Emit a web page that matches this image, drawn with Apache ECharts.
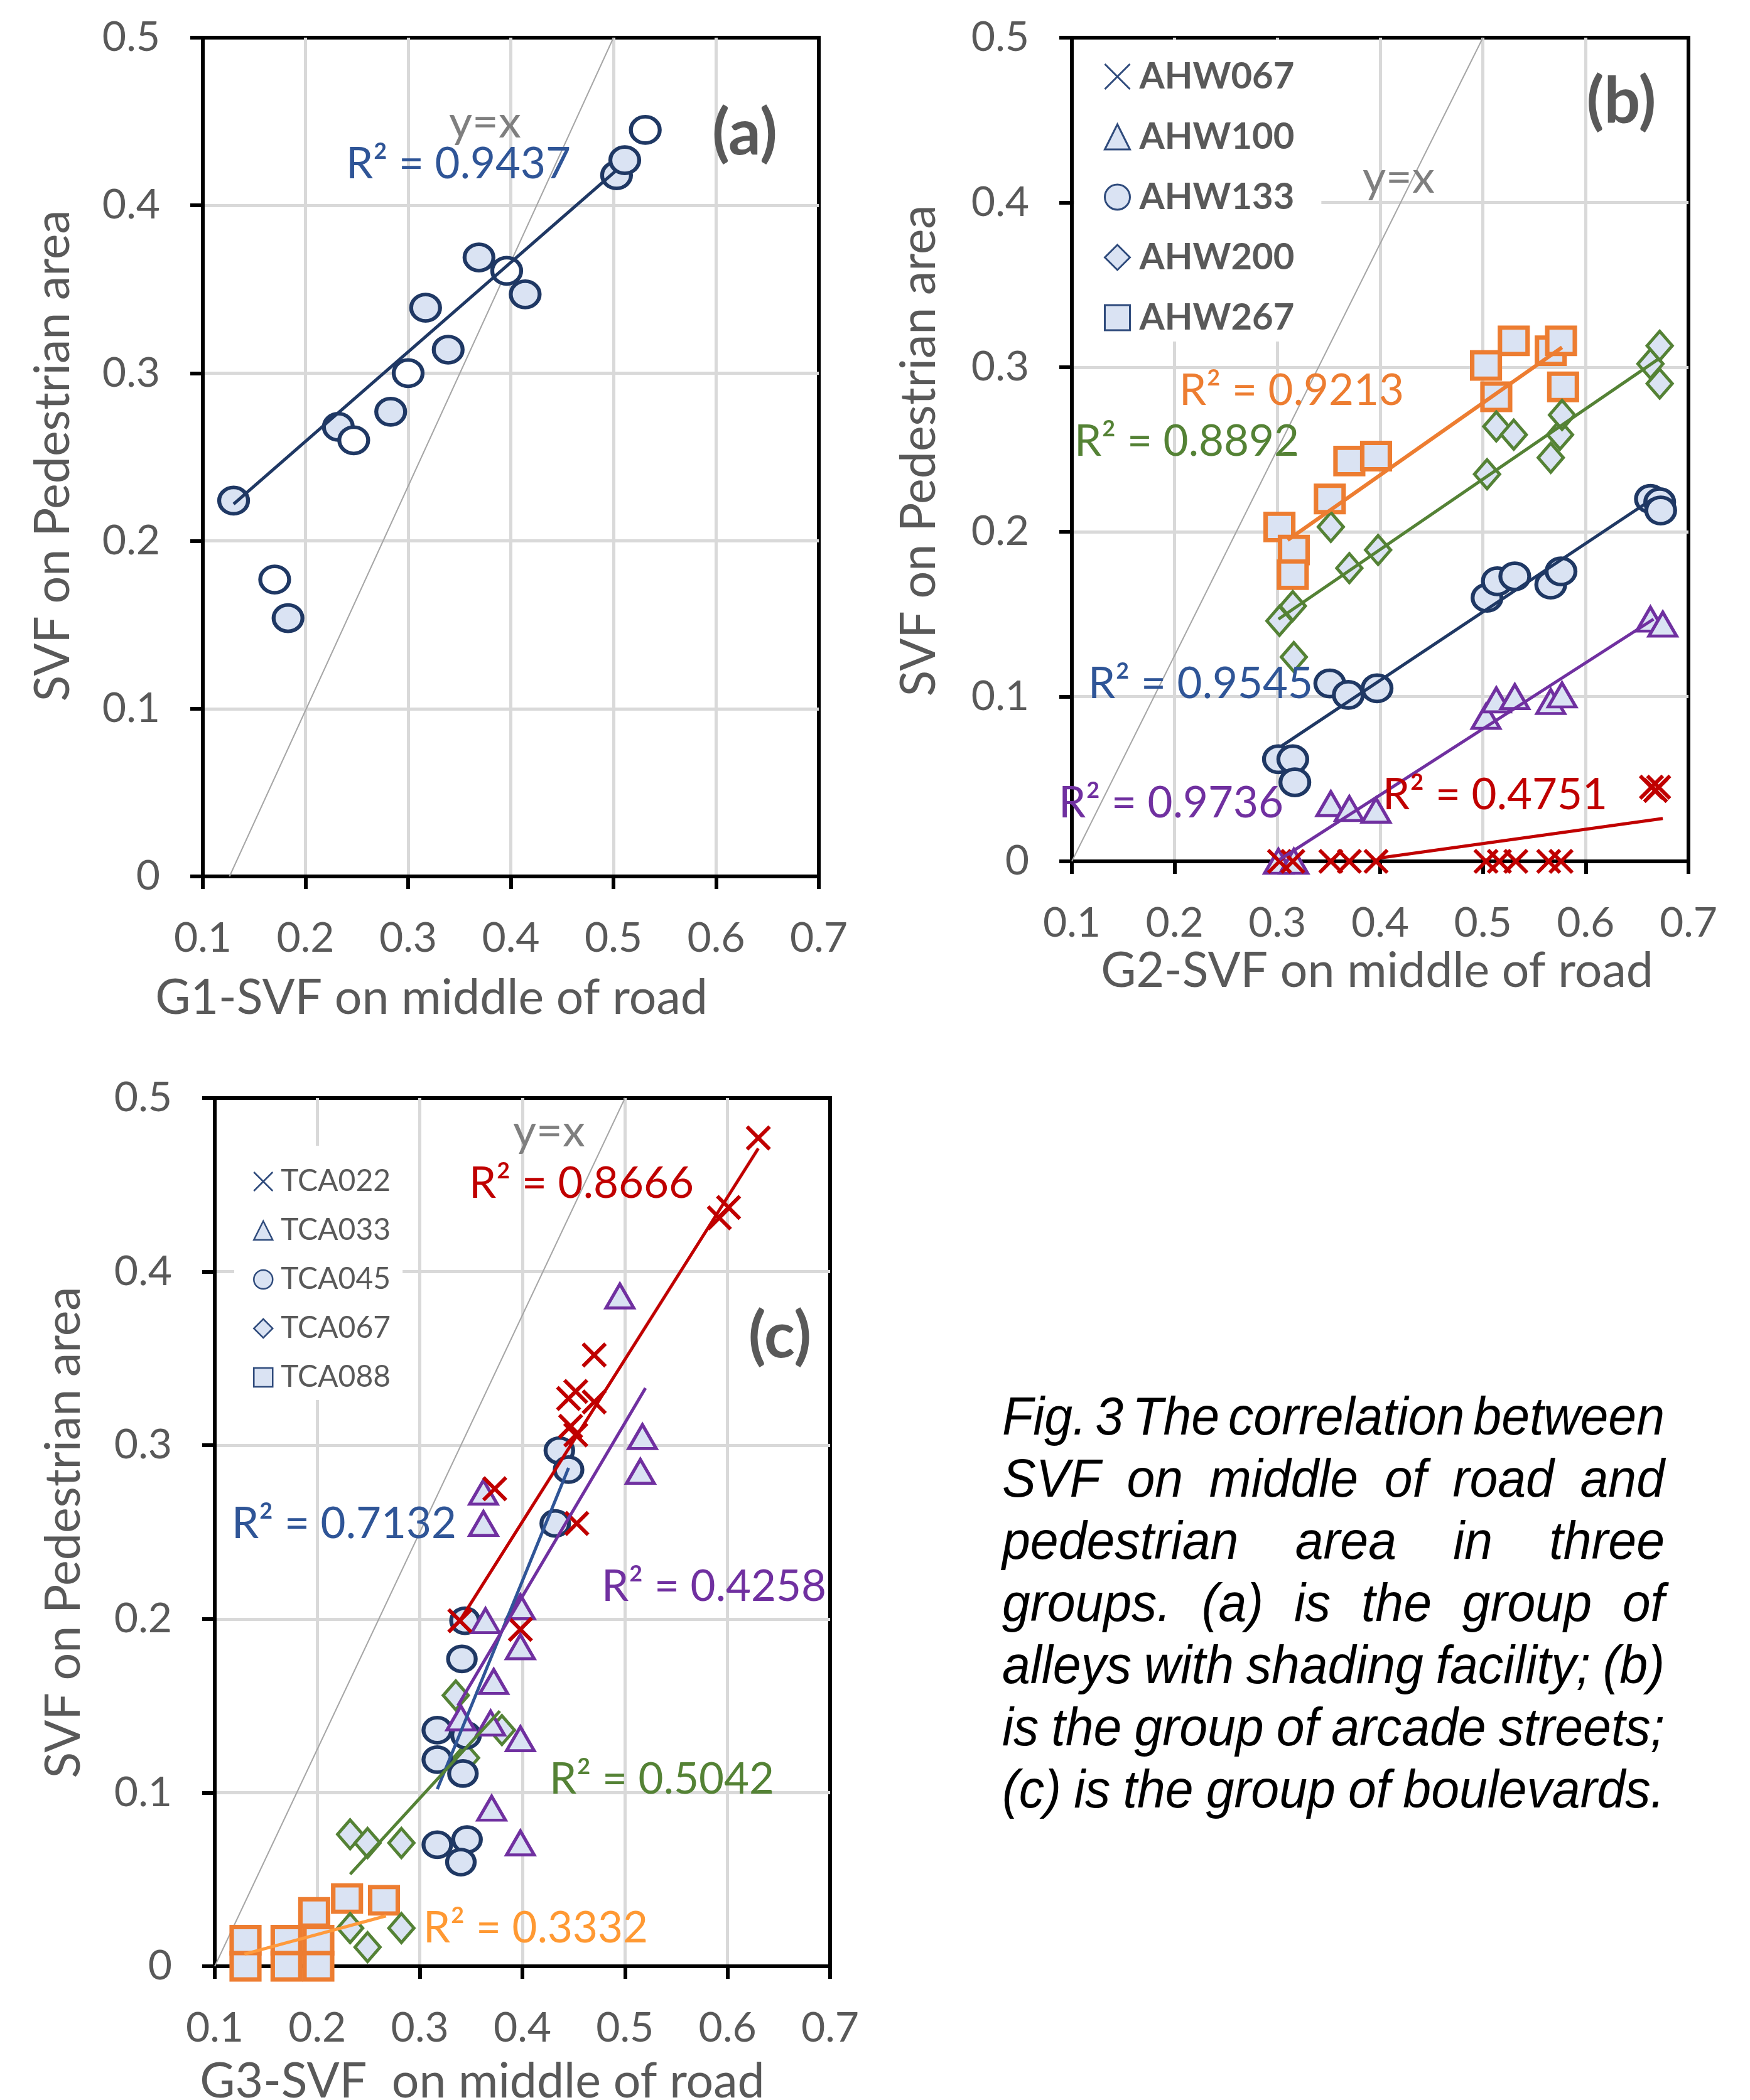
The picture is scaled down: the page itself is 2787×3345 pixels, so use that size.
<!DOCTYPE html>
<html>
<head>
<meta charset="utf-8">
<title>SVF correlation</title>
<script src="https://cdn.jsdelivr.net/npm/echarts@6/dist/echarts.min.js"></script>
<style>
html, body { margin: 0; padding: 0; background: #fff; }
#chart { width: 2787px; height: 3345px; }
</style>
</head>
<body>
<div id="chart"></div>
<script>
// ---- (a) G1 : alleys with shading facility ----
const g1Filled = [[0.130, 0.224], [0.183, 0.154], [0.232, 0.268], [0.283, 0.277], [0.317, 0.339],
  [0.339, 0.314], [0.369, 0.369], [0.414, 0.347], [0.503, 0.418], [0.511, 0.427]];
const g1Open = [[0.170, 0.177], [0.247, 0.260], [0.300, 0.300], [0.396, 0.361], [0.531, 0.445]];
const g1Trend = [[0.130, 0.222], [0.503, 0.421]];

// ---- (b) G2 : arcade streets ----
const ahw067 = [[0.302, 0], [0.315, 0], [0.352, 0], [0.370, 0], [0.396, 0], [0.503, 0], [0.516, 0],
  [0.532, 0], [0.564, 0], [0.576, 0], [0.664, 0.045], [0.671, 0.045], [0.668, 0.043]];
const ahw100 = [[0.301, 0], [0.316, 0], [0.352, 0.035], [0.370, 0.032], [0.396, 0.031], [0.503, 0.088],
  [0.513, 0.098], [0.531, 0.100], [0.566, 0.097], [0.577, 0.101], [0.663, 0.147], [0.675, 0.144]];
const ahw133 = [[0.301, 0.062], [0.315, 0.062], [0.317, 0.048], [0.351, 0.108], [0.369, 0.101],
  [0.397, 0.105], [0.504, 0.160], [0.514, 0.170], [0.531, 0.173], [0.566, 0.168], [0.576, 0.176],
  [0.663, 0.220], [0.672, 0.218], [0.673, 0.213]];
const ahw200 = [[0.302, 0.146], [0.315, 0.155], [0.316, 0.124], [0.352, 0.203], [0.370, 0.178],
  [0.398, 0.189], [0.504, 0.235], [0.513, 0.264], [0.530, 0.259], [0.566, 0.245], [0.575, 0.259],
  [0.577, 0.271], [0.663, 0.302], [0.672, 0.313], [0.672, 0.290]];
const ahw267 = [[0.302, 0.203], [0.316, 0.189], [0.315, 0.174], [0.351, 0.220], [0.370, 0.243],
  [0.396, 0.246], [0.503, 0.301], [0.513, 0.282], [0.530, 0.316], [0.566, 0.310], [0.576, 0.316],
  [0.578, 0.288]];
const trend067 = [[0.399, 0.002], [0.675, 0.026]];
const trend100 = [[0.302, 0.001], [0.666, 0.147]];
const trend133 = [[0.304, 0.070], [0.665, 0.220]];
const trend200 = [[0.301, 0.147], [0.671, 0.305]];
const trend267 = [[0.310, 0.195], [0.577, 0.312]];

// ---- (c) G3 : boulevards ----
const tca022 = [[0.630, 0.477], [0.592, 0.431], [0.601, 0.437], [0.470, 0.352], [0.445, 0.327],
  [0.452, 0.331], [0.470, 0.325], [0.447, 0.311], [0.452, 0.306], [0.453, 0.255], [0.373, 0.275],
  [0.339, 0.199], [0.398, 0.194]];
const tca033 = [[0.495, 0.386], [0.517, 0.305], [0.515, 0.285], [0.362, 0.273], [0.362, 0.255],
  [0.364, 0.199], [0.398, 0.207], [0.398, 0.184], [0.372, 0.164], [0.340, 0.143], [0.369, 0.140],
  [0.398, 0.131], [0.370, 0.091], [0.398, 0.071]];
const tca045 = [[0.436, 0.297], [0.445, 0.286], [0.432, 0.255], [0.344, 0.199], [0.341, 0.177],
  [0.317, 0.136], [0.345, 0.133], [0.317, 0.119], [0.342, 0.111], [0.317, 0.070], [0.346, 0.073],
  [0.340, 0.060]];
const tca067 = [[0.335, 0.156], [0.380, 0.136], [0.345, 0.120], [0.232, 0.076], [0.249, 0.071],
  [0.282, 0.071], [0.232, 0.022], [0.249, 0.011], [0.282, 0.022]];
const tca088 = [[0.130, 0.015], [0.130, 0], [0.170, 0.015], [0.170, 0], [0.197, 0.031], [0.201, 0.015],
  [0.201, 0], [0.229, 0.039], [0.265, 0.038]];
const trend022 = [[0.340, 0.200], [0.630, 0.471]];
const trend033 = [[0.337, 0.150], [0.520, 0.333]];
const trend045 = [[0.317, 0.102], [0.445, 0.287]];
const trend067c = [[0.232, 0.053], [0.378, 0.147]];
const trend088 = [[0.129, 0.007], [0.267, 0.029]];

// y=x reference lines as drawn in each panel
const refLineA = [[0.126, 0], [0.5, 0.5]];
const refLineB = [[0.1, 0], [0.5, 0.5]];
const refLineC = [[0.1, 0], [0.5, 0.5]];

const namesB = ['AHW067', 'AHW100', 'AHW133', 'AHW200', 'AHW267'];
const namesC = ['TCA022', 'TCA033', 'TCA045', 'TCA067', 'TCA088'];
const xTicks = [0.1, 0.7, 0.1];   // min, max, step
const yTicks = [0, 0.5, 0.1];

const captionLines = [
  'Fig. 3 The correlation between',
  'SVF on middle of road and',
  'pedestrian area in three',
  'groups. (a) is the group of',
  'alleys with shading facility; (b)',
  'is the group of arcade streets;',
  '(c) is the group of boulevards.'
];

// ---- styles ----
const FONT = 'Lato, "Open Sans", sans-serif';
const FILL = '#dae3f3';
const NAVY = '#1f3864';
const ORANGE = '#ed7d31';
const GREEN = '#548235';
const PURPLE = '#7030a0';
const RED = '#c00000';
const BLUE = '#2f5597';
const GREY = '#595959';
const LEG = '#2f4b7c';
const XMARK = 'path://M0,0L10,10M10,0L0,10';

const grids = [
  { left: 323, top: 60, width: 981, height: 1336 },
  { left: 1707, top: 60, width: 982, height: 1312 },
  { left: 342, top: 1749, width: 980, height: 1383 }
];

function xAxisFor(i) {
  return {
    gridIndex: i, type: 'value', min: xTicks[0], max: xTicks[1], interval: xTicks[2],
    axisLine: { show: true, onZero: false, lineStyle: { color: '#000', width: 6 } },
    axisTick: { show: true, length: 20, lineStyle: { color: '#000', width: 6 } },
    axisLabel: { margin: 66, color: GREY, fontFamily: FONT, fontSize: 66 },
    splitLine: { show: true, showMinLine: false, showMaxLine: false, lineStyle: { color: '#d9d9d9', width: 5 } }
  };
}
function yAxisFor(i) {
  return {
    gridIndex: i, type: 'value', min: yTicks[0], max: yTicks[1], interval: yTicks[2],
    axisLine: { show: true, onZero: false, lineStyle: { color: '#000', width: 6 } },
    axisTick: { show: true, length: 20, lineStyle: { color: '#000', width: 6 } },
    axisLabel: { margin: 68, color: GREY, fontFamily: FONT, fontSize: 66 },
    splitLine: { show: true, showMinLine: false, showMaxLine: false, lineStyle: { color: '#d9d9d9', width: 5 } }
  };
}

function scatter(name, data, gi, symbol, size, border, bw, fill) {
  return {
    type: 'scatter', name: name, xAxisIndex: gi, yAxisIndex: gi, data: data,
    symbol: symbol, symbolSize: size, clip: false, silent: true, z: 3,
    itemStyle: { color: fill, borderColor: border, borderWidth: bw, opacity: 1 }
  };
}
function trend(data, gi, color, width, z) {
  return {
    type: 'line', xAxisIndex: gi, yAxisIndex: gi, data: data, symbol: 'none', showSymbol: false,
    silent: true, z: z || 4, lineStyle: { color: color, width: width }
  };
}

const series = [
  trend(refLineA, 0, '#a6a6a6', 2, 2),
  trend(refLineB, 1, '#a6a6a6', 2, 2),
  trend(refLineC, 2, '#a6a6a6', 2, 2),

  scatter('G1a', g1Filled, 0, 'circle', [46, 42], NAVY, 6, FILL),
  scatter('G1b', g1Open, 0, 'circle', [46, 42], NAVY, 6, '#fff'),
  trend(g1Trend, 0, NAVY, 5),

  scatter('AHW267', ahw267, 1, 'rect', [44, 42], ORANGE, 7, FILL),
  scatter('AHW200', ahw200, 1, 'diamond', [40, 46], GREEN, 5, FILL),
  scatter('AHW133', ahw133, 1, 'circle', [46, 42], NAVY, 6, FILL),
  scatter('AHW100', ahw100, 1, 'triangle', [44, 38], PURPLE, 5, FILL),
  scatter('AHW067', ahw067, 1, XMARK, [36, 36], RED, 6, 'none'),
  trend(trend267, 1, ORANGE, 6),
  trend(trend200, 1, GREEN, 5),
  trend(trend133, 1, NAVY, 5),
  trend(trend100, 1, PURPLE, 5),
  trend(trend067, 1, RED, 5),

  scatter('TCA088', tca088, 2, 'rect', [44, 42], ORANGE, 7, FILL),
  scatter('TCA067', tca067, 2, 'diamond', [40, 46], GREEN, 5, FILL),
  scatter('TCA045', tca045, 2, 'circle', [44, 40], NAVY, 6, FILL),
  scatter('TCA033', tca033, 2, 'triangle', [44, 38], PURPLE, 5, FILL),
  scatter('TCA022', tca022, 2, XMARK, [36, 36], RED, 6, 'none'),
  trend(trend022, 2, RED, 5),
  trend(trend045, 2, BLUE, 5),
  trend(trend033, 2, PURPLE, 5),
  trend(trend067c, 2, GREEN, 5),
  trend(trend088, 2, '#ff9a3c', 5)
];

const iconsB = [XMARK, 'triangle', 'circle', 'diamond', 'rect'];

const legends = [
  {
    orient: 'vertical', left: 1711, top: 64, padding: [28, 43, 8, 47], itemGap: 36,
    itemWidth: 40, itemHeight: 40, backgroundColor: '#fff', selectedMode: false,
    textStyle: { fontFamily: FONT, fontSize: 58, fontWeight: 'bold', color: GREY, lineHeight: 60, padding: [0, 0, 0, 10] },
    data: namesB.map((n, i) => ({ name: n, icon: iconsB[i], itemStyle: { color: FILL, borderColor: LEG, borderWidth: 3 } }))
  },
  {
    orient: 'vertical', left: 373, top: 1825, padding: [33, 19, 12, 30], itemGap: 30,
    itemWidth: 30, itemHeight: 30, backgroundColor: '#fff', selectedMode: false,
    textStyle: { fontFamily: FONT, fontSize: 48, color: GREY, lineHeight: 48, padding: [0, 0, 0, 8] },
    data: namesC.map((n, i) => ({ name: n, icon: iconsB[i], itemStyle: { color: FILL, borderColor: LEG, borderWidth: 2.5 } }))
  }
];

// ---- annotation texts ----
function label(text, x, y, color, size, opts) {
  opts = opts || {};
  const align = opts.align || 'left';
  return {
    type: 'text', x: x, y: y, rotation: opts.rotation || 0, z: 50,
    style: {
      text: text, fill: color, fontSize: size, fontFamily: FONT, fontWeight: opts.bold ? 'bold' : 'normal',
      align: align, textAlign: align, verticalAlign: 'middle', textVerticalAlign: 'middle'
    }
  };
}

const elements = [
  // panel (a)
  label('y=x', 715, 196, '#7f7f7f', 72),
  label('R² = 0.9437', 551, 262, BLUE, 69),
  label('(a)', 1186, 213, GREY, 102, { align: 'center', bold: true }),
  label('SVF on Pedestrian area', 85, 726, GREY, 77, { align: 'center', rotation: Math.PI / 2 }),
  label('G1-SVF on middle of road', 687, 1590, GREY, 77, { align: 'center' }),
  // panel (b)
  label('y=x', 2170, 284, '#7f7f7f', 72),
  label('R² = 0.9213', 1878, 623, ORANGE, 69),
  label('R² = 0.8892', 1711, 704, GREEN, 69),
  label('R² = 0.9545', 1733, 1090, BLUE, 69),
  label('R² = 0.9736', 1686, 1280, PURPLE, 69),
  label('R² = 0.4751', 2202, 1267, RED, 69),
  label('(b)', 2582, 162, GREY, 102, { align: 'center', bold: true }),
  label('SVF on Pedestrian area', 1464, 718, GREY, 77, { align: 'center', rotation: Math.PI / 2 }),
  label('G2-SVF on middle of road', 2193, 1547, GREY, 77, { align: 'center' }),
  // panel (c)
  label('y=x', 817, 1803, '#7f7f7f', 72),
  label('R² = 0.8666', 747, 1886, RED, 69),
  label('R² = 0.7132', 369, 2428, BLUE, 69),
  label('R² = 0.4258', 958, 2528, PURPLE, 69),
  label('R² = 0.5042', 875, 2835, GREEN, 69),
  label('R² = 0.3332', 674, 3072, '#ff9933', 69),
  label('(c)', 1242, 2129, GREY, 102, { align: 'center', bold: true }),
  label('SVF on Pedestrian area', 102, 2441, GREY, 77, { align: 'center', rotation: Math.PI / 2 }),
  label('G3-SVF  on middle of road', 768, 3316, GREY, 77, { align: 'center' })
];

// ---- justified, condensed italic caption ----
const capFamily = '"Liberation Sans Narrow", "Liberation Sans", Arial, sans-serif';
const capSize = 86;
const capLeft = 1596, capRight = 2651, capTop = 2261, capStep = 99;
const mctx = document.createElement('canvas').getContext('2d');
mctx.font = 'italic ' + capSize + 'px ' + capFamily;
const capWords = captionLines.map(l => l.split(' '));
const capWidths = capWords.map(ws => ws.map(w => mctx.measureText(w).width));
const capW = capRight - capLeft;
const minGap = 14;
let capScale = Math.min.apply(null, capWidths.map((ws, i) =>
  (capW - minGap * (ws.length - 1)) / ws.reduce((a, b) => a + b, 0)));
capScale = Math.max(0.55, Math.min(1.15, capScale));
capWords.forEach((ws, li) => {
  const total = capWidths[li].reduce((a, b) => a + b, 0) * capScale;
  const gap = ws.length > 1 ? (capW - total) / (ws.length - 1) : 0;
  let x = capLeft;
  ws.forEach((w, wi) => {
    elements.push({
      type: 'text', x: x, y: capTop + li * capStep, scaleX: capScale, z: 50,
      style: {
        text: w, fill: '#000', fontSize: capSize, fontFamily: capFamily, fontStyle: 'italic',
        align: 'left', textAlign: 'left', verticalAlign: 'middle', textVerticalAlign: 'middle'
      }
    });
    x += capWidths[li][wi] * capScale + gap;
  });
});

const chart = echarts.init(document.getElementById('chart'));
chart.setOption({
  animation: false,
  backgroundColor: '#fff',
  grid: grids.map(g => Object.assign({ show: true, borderColor: '#000', borderWidth: 6, containLabel: false }, g)),
  xAxis: [0, 1, 2].map(xAxisFor),
  yAxis: [0, 1, 2].map(yAxisFor),
  legend: legends,
  series: series,
  graphic: { elements: elements }
});
</script>
</body>
</html>
